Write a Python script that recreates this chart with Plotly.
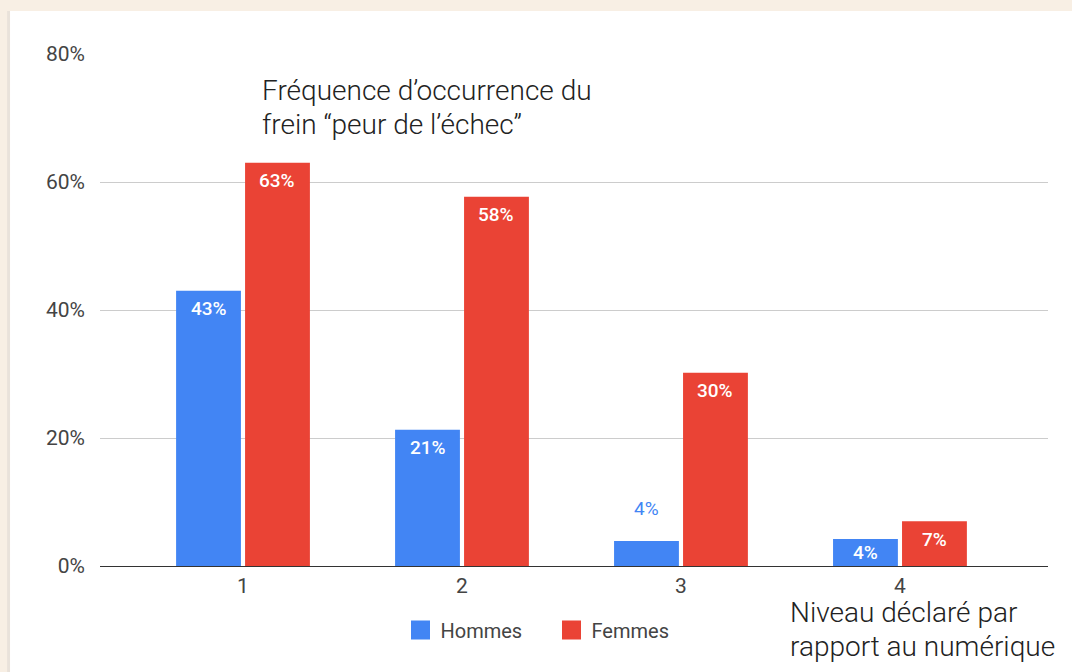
import plotly.graph_objects as go

# data
niveaux = [1, 2, 3, 4]
hommes = [43, 21.3, 3.9, 4.2]
femmes = [63, 57.7, 30.2, 7.0]
series = ["Hommes", "Femmes"]
couleurs = ["#4285f4", "#ea4335"]
titre = ["Fréquence d’occurrence du", "frein “peur de l’échec”"]
axe_x = ["Niveau déclaré par", "rapport au numérique"]

bargap = 0.37
fig = go.Figure()
for nom, vals, col in zip(series, [hommes, femmes], couleurs):
    fig.add_trace(go.Bar(x=niveaux, y=vals, name=nom, marker_color=col,
                         marker_line_width=0, hoverinfo="skip", showlegend=False))
# legend entries with bigger square swatches
for nom, col in zip(series, couleurs):
    fig.add_trace(go.Scatter(x=[None], y=[None], mode="markers", name=nom,
                             marker=dict(symbol="square", size=16, color=col,
                                         line=dict(color=col, width=3))))

# value labels (white inside the bar, coloured above very short bars)
w = (1 - bargap) / 2
annots = []
for i, (vals, col) in enumerate(zip([hommes, femmes], couleurs)):
    for c, v in zip(niveaux, vals):
        xa = c - w / 2 + i * w
        lab = dict(x=xa, y=v, text=f"{round(v)}%", showarrow=False,
                   font=dict(color="white", size=19, family="Roboto", weight=500))
        if v < 4:
            lab.update(yshift=33)
            lab["font"]["color"] = col
            lab["font"]["weight"] = 400
        elif v < 5:
            lab.update(y=v / 2)
        else:
            lab.update(yshift=-18)
        annots.append(lab)

# free text: title top-left, axis caption bottom-right
for k, ligne in enumerate(titre):
    annots.append(dict(xref="paper", yref="paper", x=0.169, y=0.928 - k * 0.065,
                       xanchor="left", yanchor="middle", text=ligne, showarrow=False,
                       font=dict(size=28, color="#222222", family="Roboto", weight=300)))
for k, ligne in enumerate(axe_x):
    annots.append(dict(xref="paper", yref="paper", x=0.726, y=-0.09 - k * 0.068,
                       xanchor="left", yanchor="middle", text=ligne, showarrow=False,
                       font=dict(size=28, color="#222222", family="Roboto", weight=300)))

fig.update_layout(
    width=1072, height=672,
    margin=dict(l=100, r=24, t=54, b=106),
    paper_bgcolor="#f8efe4", plot_bgcolor="white",
    barmode="group", bargap=bargap, bargroupgap=0.06,
    font=dict(family="Roboto", color="#444444", size=21),
    annotations=annots,
    shapes=[dict(type="rect", xref="paper", yref="paper", layer="below",
                 x0=-0.098, x1=1.1, y0=-0.3, y1=1.084,
                 fillcolor="#e9e2da", line_width=0),
            dict(type="rect", xref="paper", yref="paper", layer="below",
                 x0=-0.0949, x1=1.1, y0=-0.3, y1=1.084,
                 fillcolor="white", line_width=0)],
    legend=dict(orientation="h", x=0.317, xanchor="left", y=-0.125, yanchor="middle",
                font=dict(size=20, color="#444444"), bgcolor="rgba(0,0,0,0)",
                itemsizing="trace", entrywidth=106, entrywidthmode="pixels"),
    showlegend=True,
)
fig.update_xaxes(range=[0.347, 4.676], tickvals=niveaux, ticktext=[str(n) for n in niveaux],
                 showgrid=False, showline=True, linecolor="#333333", linewidth=1,
                 ticks="", ticklabelstandoff=1, zeroline=False)
fig.update_yaxes(range=[0, 80], dtick=20, ticksuffix="%", gridcolor="#cccccc", gridwidth=1,
                 zeroline=False, ticklabelstandoff=14, showline=False)

fig.write_html("out.html", config={"displayModeBar": False},
               post_script="document.body.style.margin='0';")
